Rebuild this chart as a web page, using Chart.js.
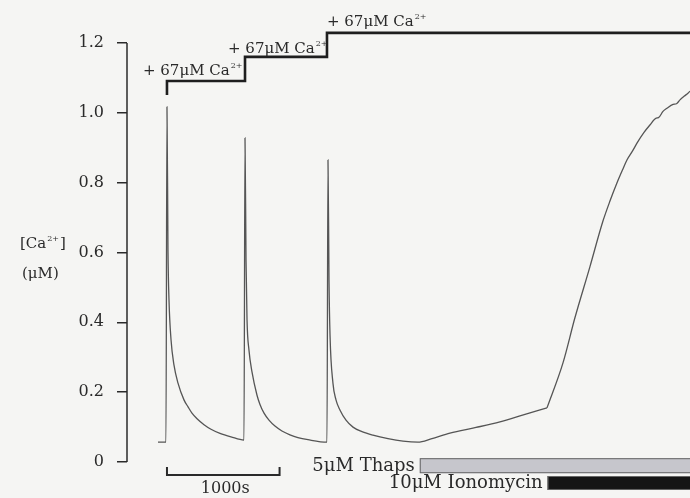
<!DOCTYPE html>
<html>
<head>
<meta charset="utf-8">
<script src="https://cdn.jsdelivr.net/npm/chart.js@4"></script>
<style>
  html, body { margin: 0; padding: 0; background: #f5f5f3; }
  #wrap { width: 690px; height: 498px; }
</style>
</head>
<body>
<div id="wrap"><canvas id="caChart" width="690" height="498"></canvas></div>
<script>
/* ============================================================
   [Ca2+] trace — Ca additions, thapsigargin, ionomycin
   ============================================================ */

// time in seconds, [Ca2+] in µM
const traceTime = [
  275, 346, 355, 364, 373, 391, 417, 453, 506, 542, 577, 622, 684, 746, 826, 924, 1039,
  1048, 1057, 1066, 1083, 1110, 1154, 1181, 1217, 1261, 1314, 1376, 1447, 1518, 1607, 1776,
  1785, 1794, 1803, 1829, 1856, 1891, 1945, 2007, 2087, 2184, 2318, 2451, 2584,
  2700, 2868, 3100, 3312, 3520, 3730,
  3872, 3978, 4111, 4227, 4290, 4351, 4400, 4440, 4490, 4529, 4590,
  4644, 4700, 4720, 4760, 4795, 4850, 4880, 4911, 4950, 4982, 5000
];
const traceCa = [
  0.057, 0.057, 1.017, 0.607, 0.464, 0.350, 0.278, 0.226, 0.178, 0.158, 0.140, 0.124, 0.107, 0.094, 0.082, 0.072, 0.063,
  0.928, 0.579, 0.407, 0.321, 0.258, 0.192, 0.165, 0.140, 0.120, 0.103, 0.089, 0.078, 0.070, 0.064, 0.057,
  0.865, 0.521, 0.364, 0.226, 0.178, 0.149, 0.120, 0.100, 0.087, 0.077, 0.067, 0.060, 0.057,
  0.066, 0.083, 0.099, 0.115, 0.135, 0.155,
  0.284, 0.413, 0.559, 0.690, 0.748, 0.799, 0.836, 0.865, 0.891, 0.913, 0.943,
  0.965, 0.985, 0.986, 1.004, 1.013, 1.024, 1.026, 1.037, 1.048, 1.056, 1.062
];
const ionoTime = 3730; // trace kinks where ionomycin goes in

// Ca additions (step trace at top)
const caAddTimes = [355, 1048, 1776];
const caStepLevels = [1.051, 1.091, 1.160, 1.229];
const caAddLabels = ["+ 67\u03bcM Ca", "+ 67\u03bcM Ca", "+ 67\u03bcM Ca"];

// drug bars
const treatments = ["5\u03bcM Thaps", "10\u03bcM Ionomycin"];
const treatmentStart = [2600, 3735];
const treatmentEnd = [5000, 5000];

// axis
const yTicks = [0, 0.2, 0.4, 0.6, 0.8, 1.0, 1.2];
const yTickLabels = ["0", "0.2", "0.4", "0.6", "0.8", "1.0", "1.2"];
const scaleBarTimes = [355, 1355];
const scaleBarLabel = "1000s";

const INK = "#2a2a2a";
const SERIF = "'DejaVu Serif', 'Liberation Serif', serif";

const tracePts = traceTime.map((t, i) => ({ x: t, y: traceCa[i] }));

// build step points from the addition times
function caStepPoints() {
  const pts = [{ x: caAddTimes[0], y: caStepLevels[0] }];
  caAddTimes.forEach((t, i) => {
    pts.push({ x: t, y: caStepLevels[i + 1] });
    const next = i + 1 < caAddTimes.length ? caAddTimes[i + 1] : 5000;
    pts.push({ x: next, y: caStepLevels[i + 1] });
  });
  return pts;
}

function drawSup(ctx, text, sup, x, y, size) {
  ctx.font = size + "px " + SERIF;
  ctx.textAlign = "left";
  ctx.fillText(text, x, y);
  const w = ctx.measureText(text).width;
  ctx.font = Math.round(size * 0.55) + "px " + SERIF;
  ctx.fillText(sup, x + w + 1, y - size * 0.45);
  return w + ctx.measureText(sup).width + 1;
}

const annotations = {
  id: "annotations",
  afterDatasetsDraw(chart) {
    const { ctx, scales: { x, y } } = chart;
    ctx.save();
    ctx.fillStyle = INK;
    ctx.strokeStyle = INK;

    // y axis line, only 0 .. 1.2
    ctx.lineWidth = 1.5;
    ctx.beginPath();
    ctx.moveTo(chart.chartArea.left, y.getPixelForValue(yTicks[0]));
    ctx.lineTo(chart.chartArea.left, y.getPixelForValue(yTicks[yTicks.length - 1]));
    ctx.stroke();

    // Ca addition labels
    const labelPos = [[142, 1.109], [897, 1.172], [1776, 1.249]];
    ctx.textBaseline = "alphabetic";
    caAddLabels.forEach((lab, i) => {
      drawSup(ctx, lab, "2+", x.getPixelForValue(labelPos[i][0]), y.getPixelForValue(labelPos[i][1]), 15);
    });

    // treatment bars
    const rows = [[0.011, -0.032], [-0.040, -0.080]];
    const fills = ["#c6c6cc", "#151515"];
    treatments.forEach((name, i) => {
      const x0 = x.getPixelForValue(treatmentStart[i]);
      const x1 = x.getPixelForValue(treatmentEnd[i]);
      const y0 = y.getPixelForValue(rows[i][0]);
      const y1 = y.getPixelForValue(rows[i][1]);
      ctx.fillStyle = fills[i];
      ctx.fillRect(x0, y0, x1 - x0, y1 - y0);
      ctx.lineWidth = 1;
      ctx.strokeStyle = "#666";
      ctx.strokeRect(x0 + 0.5, y0 + 0.5, x1 - x0, y1 - y0 - 1);
      ctx.fillStyle = INK;
      ctx.font = "18px " + SERIF;
      ctx.textAlign = "right";
      ctx.fillText(name, x0 - 5, y1 - 2);
    });

    // 1000 s scale bar
    const sx0 = x.getPixelForValue(scaleBarTimes[0]);
    const sx1 = x.getPixelForValue(scaleBarTimes[1]);
    const sy = y.getPixelForValue(-0.037);
    const st = y.getPixelForValue(-0.014);
    ctx.strokeStyle = INK;
    ctx.lineWidth = 2;
    ctx.beginPath();
    ctx.moveTo(sx0, st); ctx.lineTo(sx0, sy); ctx.lineTo(sx1, sy); ctx.lineTo(sx1, st);
    ctx.stroke();
    ctx.font = "16px " + SERIF;
    ctx.textAlign = "center";
    ctx.fillText(scaleBarLabel, (sx0 + sx1) / 2 + 2, 493);

    // y axis title
    ctx.textAlign = "left";
    const w = drawSup(ctx, "[Ca", "2+", 20, 248, 15);
    ctx.font = "15px " + SERIF;
    ctx.fillText("]", 20 + w + 1, 248);
    ctx.fillText("(\u03bcM)", 22, 278);

    ctx.restore();
  }
};

const traceStyle = {
  borderColor: "#555",
  borderWidth: 1.3,
  pointRadius: 0,
  cubicInterpolationMode: "monotone",
  fill: false
};

new Chart(document.getElementById("caChart"), {
  type: "line",
  data: {
    datasets: [
      // split at the ionomycin kink so the smoothing keeps that corner sharp
      Object.assign({ label: "[Ca2+]", data: tracePts.filter(p => p.x <= ionoTime) }, traceStyle),
      Object.assign({ label: "[Ca2+] iono", data: tracePts.filter(p => p.x >= ionoTime) }, traceStyle),
      {
        label: "Ca additions",
        data: caStepPoints(),
        borderColor: "#1e1e1e",
        borderWidth: 2.6,
        pointRadius: 0,
        tension: 0,
        fill: false
      }
    ]
  },
  options: {
    responsive: false,
    animation: false,
    layout: { padding: 0 },
    plugins: { legend: { display: false }, tooltip: { enabled: false } },
    scales: {
      x: { type: "linear", min: 0, max: 5000, display: false },
      y: {
        min: -0.103,
        max: 1.323,
        afterBuildTicks: s => { s.ticks = yTicks.map(v => ({ value: v })); },
        afterFit: s => { s.width = 127; s.paddingTop = 0; s.paddingBottom = 0; },
        ticks: {
          callback: (v, i) => yTickLabels[i],
          font: { family: SERIF, size: 16 },
          color: INK,
          padding: 13
        },
        grid: { drawOnChartArea: false, drawTicks: true, tickLength: 10, color: INK, lineWidth: 1.5 },
        border: { display: false }
      }
    }
  },
  plugins: [annotations]
});
</script>
</body>
</html>
